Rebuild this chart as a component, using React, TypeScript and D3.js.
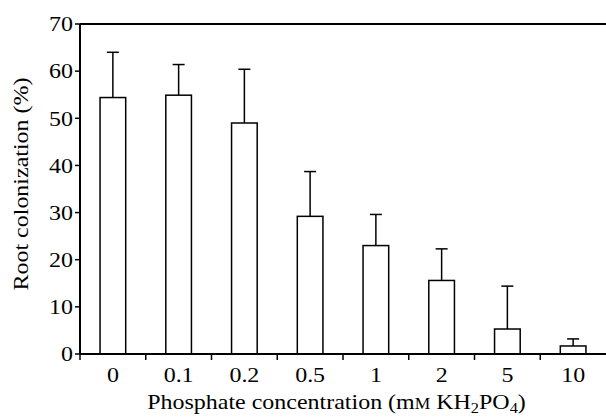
import React from 'react';
import * as d3 from 'd3';

const categories = ['0', '0.1', '0.2', '0.5', '1', '2', '5', '10'];
const means = [54.4, 54.9, 49.0, 29.2, 23.0, 15.6, 5.3, 1.7];
const upper = [64.0, 61.4, 60.4, 38.7, 29.6, 22.3, 14.4, 3.2];
const yTicks = [0, 10, 20, 30, 40, 50, 60, 70];

const W = 606;
const H = 417;
const margin = { top: 24, right: 0, bottom: 63, left: 80 };
const FONT = "'Liberation Serif', 'DejaVu Serif', 'Times New Roman', Times, serif";
const SX = 1.09; // the original type is a little wider than Liberation Serif

const App = () => {
  const innerW = W - margin.left - margin.right;
  const innerH = H - margin.top - margin.bottom;

  const x = d3.scaleBand<string>()
    .domain(categories)
    .range([0, innerW])
    .paddingInner(0.61)
    .paddingOuter(0.305);

  const y = d3.scaleLinear().domain([0, 70]).range([innerH, 0]);

  const step = x.step();
  const tickXs = categories.map((_, i) => i * step);
  const txt = { fontFamily: FONT, fontSize: 22 };

  return (
    <svg width={W} height={H} style={{ position: 'absolute', left: 0, top: 0 }}>
      <rect width={W} height={H} fill="#fff" />
      <g transform={`translate(${margin.left},${margin.top})`}>
        {/* bars + error bars */}
        {categories.map((c, i) => {
          const bx = x(c)!;
          const cx = bx + x.bandwidth() / 2;
          return (
            <g key={c}>
              <line x1={cx} x2={cx} y1={y(means[i])} y2={y(upper[i])} stroke="#000" strokeWidth={1.5} />
              <line x1={cx - 6} x2={cx + 6} y1={y(upper[i])} y2={y(upper[i])} stroke="#000" strokeWidth={1.5} />
              <rect
                x={bx}
                y={y(means[i])}
                width={x.bandwidth()}
                height={innerH - y(means[i])}
                fill="#fff"
                stroke="#000"
                strokeWidth={1.5}
              />
            </g>
          );
        })}

        {/* top frame */}
        <line x1={0} x2={innerW} y1={0} y2={0} stroke="#000" strokeWidth={2} />

        {/* y axis */}
        <line x1={0} x2={0} y1={0} y2={innerH} stroke="#000" strokeWidth={2} />
        {yTicks.map(t => (
          <g key={t} transform={`translate(0,${y(t)})`}>
            <line x1={-5} x2={0} stroke="#000" strokeWidth={1.5} />
            <text transform={`translate(-7,0) scale(${SX},1)`} dy="0.33em" textAnchor="end" style={txt}>{t}</text>
          </g>
        ))}

        {/* x axis */}
        <line x1={0} x2={innerW} y1={innerH} y2={innerH} stroke="#000" strokeWidth={2} />
        {tickXs.map((tx, i) => (
          <line key={i} x1={tx} x2={tx} y1={innerH} y2={innerH + 6} stroke="#000" strokeWidth={1.5} />
        ))}
        {categories.map(c => (
          <text
            key={c}
            transform={`translate(${x(c)! + x.bandwidth() / 2},${innerH + 28}) scale(${SX},1)`}
            textAnchor="middle"
            style={txt}
          >
            {c}
          </text>
        ))}

        {/* axis titles */}
        <text transform={`translate(${innerW / 2 - 6.5},${innerH + 55}) scale(${SX},1)`} textAnchor="middle" style={txt}>
          Phosphate concentration (m<tspan fontSize={16}>M</tspan> KH<tspan fontSize={15} dy={4}>2</tspan>
          <tspan dy={-4}>PO</tspan><tspan fontSize={15} dy={4}>4</tspan><tspan dy={-4}>)</tspan>
        </text>
        <text
          transform={`translate(${-52},${innerH / 2 - 5}) rotate(-90) scale(${SX},1)`}
          textAnchor="middle"
          style={txt}
        >
          Root colonization (%)
        </text>
      </g>
    </svg>
  );
};

export default App;
